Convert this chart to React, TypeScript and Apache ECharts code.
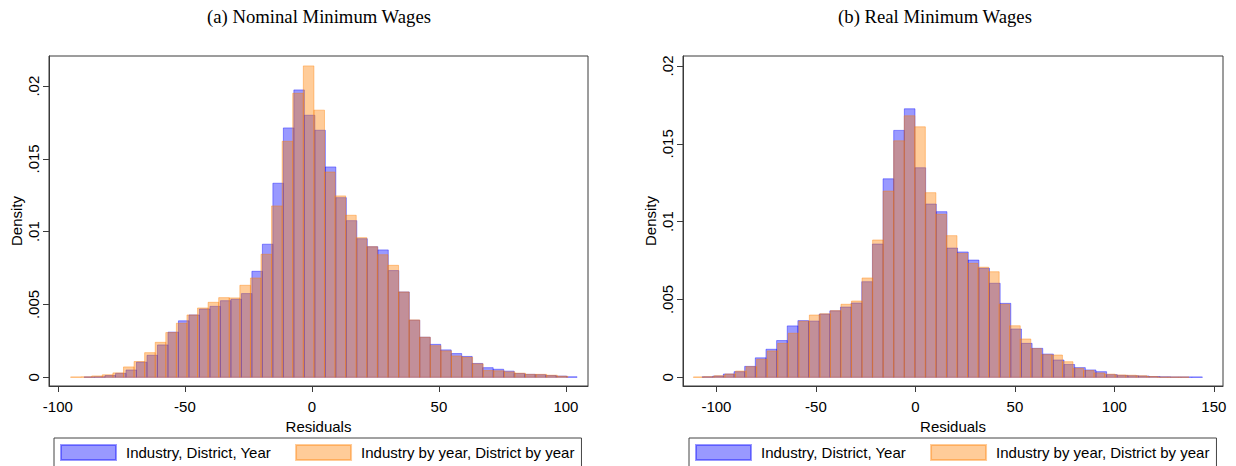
import React, { useEffect, useRef } from "react";
import * as echarts from "echarts";

// Histogram densities of wage residuals, one value per bin.
const seriesNames = ["Industry, District, Year", "Industry by year, District by year"];
const panelTitles = ["(a) Nominal Minimum Wages", "(b) Real Minimum Wages"];

const nominalBlueStart = -89.7;
const nominalBlueWidth = 4.13;
const nominalBlue = [
  0.00002, 0.00003, 0.00012, 0.00027, 0.0005, 0.00104, 0.00151, 0.00222, 0.0031, 0.00388,
  0.00428, 0.00469, 0.00487, 0.00526, 0.00536, 0.00575, 0.00728, 0.00914, 0.01333, 0.01713,
  0.01974, 0.018, 0.01697, 0.01445, 0.01234, 0.01076, 0.00952, 0.00897, 0.00875, 0.00733,
  0.00586, 0.00392, 0.00275, 0.00226, 0.00188, 0.00163, 0.00143, 0.00095, 0.00066, 0.00055,
  0.00042, 0.00026, 0.0002, 0.00018, 0.00012, 0.00008, 0.00003,
];

const nominalOrangeStart = -95.0;
const nominalOrangeWidth = 4.165;
const nominalOrange = [
  0.00002, 0.00003, 0.00009, 0.00017, 0.0003, 0.00071, 0.00108, 0.00169, 0.0024, 0.00307,
  0.00371, 0.00428, 0.00476, 0.00515, 0.00547, 0.00545, 0.00632, 0.00682, 0.00845, 0.01177,
  0.01621, 0.01951, 0.02139, 0.01835, 0.0141, 0.01246, 0.01113, 0.00959, 0.00897, 0.00842,
  0.00769, 0.00586, 0.00394, 0.00275, 0.00217, 0.00181, 0.00146, 0.00137, 0.00092, 0.00046,
  0.00044, 0.00037, 0.00028, 0.0002, 0.0002, 0.00014, 0.00007,
];

const realBlueStart = -107.2;
const realBlueWidth = 5.35;
const realBlue = [
  0.00003, 0.00008, 0.00021, 0.00036, 0.0007, 0.00125, 0.0018, 0.00236, 0.0033, 0.00364,
  0.00361, 0.00406, 0.00427, 0.00451, 0.00477, 0.00614, 0.00856, 0.01275, 0.01586, 0.01725,
  0.01346, 0.01113, 0.01064, 0.0083, 0.00805, 0.00753, 0.007, 0.00604, 0.00475, 0.0031,
  0.00218, 0.00186, 0.00149, 0.00111, 0.00082, 0.00062, 0.00047, 0.00036, 0.00017, 0.00012,
  0.0001, 0.00008, 0.00005, 0.00003, 0.00002, 0.00002, 0.00002,
];

const realOrangeStart = -111.6;
const realOrangeWidth = 5.3;
const realOrange = [
  0.00002, 0.00004, 0.0001, 0.00021, 0.0004, 0.00068, 0.00116, 0.00169, 0.00218, 0.00283,
  0.0036, 0.004, 0.00408, 0.00428, 0.00469, 0.0049, 0.00638, 0.00882, 0.01196, 0.01519,
  0.0168, 0.01609, 0.01186, 0.01047, 0.0091, 0.00796, 0.00732, 0.00707, 0.00678, 0.00469,
  0.00331, 0.00246, 0.00184, 0.00145, 0.00143, 0.001, 0.00058, 0.00043, 0.00028, 0.0002,
  0.00015, 0.00013, 0.0001, 0.00005, 0.00002, 0.00002, 0.00002,
];

const yTickValues = [0, 0.005, 0.01, 0.015, 0.02];
const yTickLabels = ["0", ".005", ".01", ".015", ".02"];
const xTicksNominal = [-100, -50, 0, 50, 100];
const xTicksReal = [-100, -50, 0, 50, 100, 150];

const SANS = "'Liberation Sans', Arial, sans-serif";
const SERIF = "'Liberation Serif', 'Times New Roman', serif";
const BLUE = "rgba(0, 0, 255, 0.4)";
const ORANGE = "rgba(255, 128, 0, 0.4)";
const FRAME = "#3a3a3a";

function toBins(start: number, width: number, dens: number[]) {
  return dens.map((d, i) => [start + i * width, start + (i + 1) * width, d]);
}

function histSeries(name: string, color: string, data: number[][], idx: number) {
  return {
    type: "custom",
    name,
    xAxisIndex: idx,
    yAxisIndex: idx,
    encode: { x: [0, 1], y: 2 },
    itemStyle: { color, borderColor: color, borderWidth: 1 },
    data,
    renderItem: (_p: any, api: any) => {
      const top = api.coord([api.value(0), api.value(2)]);
      const base = api.coord([api.value(1), 0]);
      return {
        type: "rect",
        shape: { x: top[0], y: top[1], width: base[0] - top[0], height: base[1] - top[1] },
        style: { fill: color, stroke: color, lineWidth: 1 },
      };
    },
  };
}

function xAxis(idx: number, min: number, max: number, ticks: number[]) {
  return {
    type: "value",
    gridIndex: idx,
    min,
    max,
    name: "Residuals",
    nameLocation: "middle",
    nameGap: 26,
    nameTextStyle: { fontFamily: SANS, fontSize: 15, color: "#000" },
    axisLine: { show: true, onZero: false, lineStyle: { color: FRAME, width: 1 } },
    axisTick: { show: true, customValues: ticks, length: 6, lineStyle: { color: FRAME } },
    axisLabel: {
      customValues: ticks,
      margin: 13,
      fontFamily: SANS,
      fontSize: 15,
      color: "#000",
      formatter: (v: number) => String(v),
    },
    splitLine: { show: false },
  };
}

function yAxis(idx: number, min: number, max: number) {
  return {
    type: "value",
    gridIndex: idx,
    min,
    max,
    name: "Density",
    nameLocation: "middle",
    nameGap: 25,
    nameRotate: 90,
    nameTextStyle: { fontFamily: SANS, fontSize: 15, color: "#000" },
    axisLine: { show: true, onZero: false, lineStyle: { color: FRAME, width: 1 } },
    axisTick: { show: true, customValues: yTickValues, length: 6, lineStyle: { color: FRAME } },
    axisLabel: {
      customValues: yTickValues,
      rotate: 90,
      margin: 8,
      fontFamily: SANS,
      fontSize: 15,
      color: "#000",
      formatter: (v: number) => {
        const i = yTickValues.findIndex((t) => Math.abs(t - v) < 1e-9);
        return i >= 0 ? yTickLabels[i] : "";
      },
    },
    splitLine: { show: false },
  };
}

function legend(left: number) {
  return {
    left,
    top: 438,
    orient: "horizontal",
    selectedMode: false,
    data: seriesNames.map((name) => ({ name, icon: "rect" })),
    itemWidth: 55,
    itemHeight: 15,
    itemGap: 24,
    padding: [6, 7, 6, 6],
    borderColor: "#444",
    borderWidth: 1,
    backgroundColor: "#fff",
    textStyle: { fontFamily: SANS, fontSize: 15, color: "#000", padding: [0, 0, 0, 5] },
  };
}

function titleText(x: number, text: string) {
  return {
    type: "text",
    x,
    y: 16,
    style: {
      text,
      fontFamily: SERIF,
      fontSize: 18.7,
      fill: "#000",
      textAlign: "center",
      textVerticalAlign: "middle",
    },
  };
}

export default function App() {
  const ref = useRef<HTMLDivElement>(null);

  useEffect(() => {
    document.body.style.margin = "0";
    if (!ref.current) return;
    const chart = echarts.init(ref.current, undefined, { renderer: "svg" });

    const grids = [
      { left: 49, top: 56, width: 539, height: 330 },
      { left: 683, top: 56, width: 540, height: 330 },
    ];

    chart.setOption({
      animation: false,
      backgroundColor: "#fff",
      grid: grids.map((g) => ({ ...g, show: true, borderColor: FRAME, borderWidth: 1, backgroundColor: "transparent" })),
      xAxis: [xAxis(0, -103.5, 108.7, xTicksNominal), xAxis(1, -116.8, 154.6, xTicksReal)],
      yAxis: [yAxis(0, -0.0006, 0.02207), yAxis(1, -0.00056, 0.02064)],
      legend: [legend(54), legend(689)],
      graphic: [titleText(319, panelTitles[0]), titleText(935, panelTitles[1])],
      series: [
        histSeries(seriesNames[0], BLUE, toBins(nominalBlueStart, nominalBlueWidth, nominalBlue), 0),
        histSeries(seriesNames[1], ORANGE, toBins(nominalOrangeStart, nominalOrangeWidth, nominalOrange), 0),
        histSeries(seriesNames[0], BLUE, toBins(realBlueStart, realBlueWidth, realBlue), 1),
        histSeries(seriesNames[1], ORANGE, toBins(realOrangeStart, realOrangeWidth, realOrange), 1),
      ],
    });

    return () => chart.dispose();
  }, []);

  return <div ref={ref} style={{ width: 1236, height: 466 }} />;
}
